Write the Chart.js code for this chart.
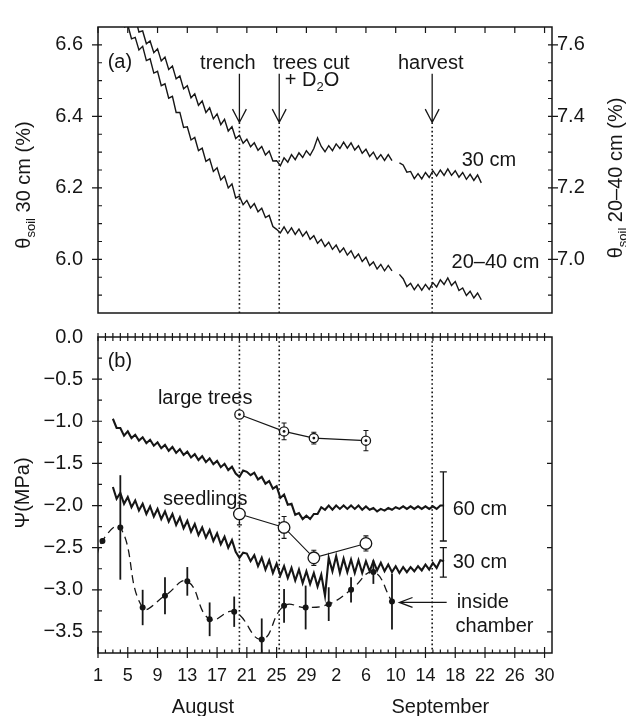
<!DOCTYPE html>
<html>
<head>
<meta charset="utf-8">
<title>Soil water content and water potential</title>
<script src="https://cdn.jsdelivr.net/npm/chart.js"></script>
<style>
  html, body { margin: 0; padding: 0; background: #fff; }
  .figure { position: relative; width: 626px; height: 716px; overflow: hidden; }
  .figure canvas { position: absolute; left: 0; }
  #thetaChart { top: 0; }
  #psiChart { top: 310px; }
</style>
</head>
<body>
<div class="figure">
  <canvas id="thetaChart" width="626" height="340"></canvas>
  <canvas id="psiChart" width="626" height="406"></canvas>
</div>
<script>
/* === Soil water: θ (panel a) and Ψ (panel b), Aug–Sep === */

// ── Data ── day 1 = 1 August, day 32 = 1 September
const labelDays = [1, 5, 9, 13, 17, 21, 25, 29, 33, 37, 41, 45, 49, 53, 57, 61];
const dayLabels = ['1', '5', '9', '13', '17', '21', '25', '29', '2', '6', '10', '14', '18', '22', '26', '30'];
const thetaLeftTicks = [6.0, 6.2, 6.4, 6.6];
const thetaRightTicks = [7.0, 7.2, 7.4, 7.6];
const psiTicks = [0, -0.5, -1.0, -1.5, -2.0, -2.5, -3.0, -3.5];

const eventDays = [20, 25.35, 45.9];   // trench, trees cut + D2O, harvest

const loggerStep = 0.5;                // days between plotted logger readings

// θsoil 30 cm (%), left axis
const theta30Start = 5.5;
const theta30 = [
  6.677, 6.676, 6.636, 6.639, 6.603, 6.611, 6.578, 6.589, 6.555, 6.566,
  6.531, 6.541, 6.505, 6.513, 6.477, 6.486, 6.452, 6.463, 6.431, 6.443,
  6.411, 6.424, 6.393, 6.407, 6.377, 6.392, 6.359, 6.371, 6.338, 6.347,
  6.325, 6.336, 6.315, 6.326, 6.305, 6.316, 6.292, 6.303, 6.275, 6.276,
  6.262, 6.284, 6.272, 6.293, 6.279, 6.298, 6.285, 6.304, 6.291, 6.310,
  6.340, 6.316, 6.301, 6.318, 6.304, 6.323, 6.310, 6.328, 6.311, 6.326,
  6.306, 6.318, 6.297, 6.308, 6.288, 6.300, 6.280, 6.293, 6.277, 6.293,
  6.276, null, 6.270, 6.264, 6.244, 6.246, 6.226, 6.240, 6.225, 6.243,
  6.229, 6.248, 6.233, 6.250, 6.235, 6.253, 6.235, 6.248, 6.230, 6.243,
  6.224, 6.238, 6.221, 6.236, 6.214
];

// θsoil 20–40 cm (%), right axis
const theta2040Start = 4.5;
const theta2040 = [
  7.649, 7.656, 7.617, 7.621, 7.586, 7.596, 7.556, 7.561, 7.521, 7.526,
  7.486, 7.491, 7.451, 7.456, 7.411, 7.411, 7.369, 7.371, 7.334, 7.341,
  7.304, 7.311, 7.274, 7.281, 7.246, 7.256, 7.222, 7.233, 7.200, 7.211,
  7.172, 7.177, 7.153, 7.165, 7.144, 7.156, 7.133, 7.143, 7.117, 7.123,
  7.092, 7.084, 7.074, 7.091, 7.073, 7.088, 7.070, 7.085, 7.065, 7.078,
  7.056, 7.066, 7.045, 7.056, 7.036, 7.048, 7.028, 7.040, 7.020, 7.032,
  7.012, 7.024, 7.003, 7.015, 6.994, 7.006, 6.983, 6.993, 6.973, 6.986,
  6.968, 6.983, 6.968, null, 6.958, 6.946, 6.924, 6.933, 6.915, 6.930,
  6.914, 6.930, 6.916, 6.935, 6.923, 6.943, 6.930, 6.948, 6.927, 6.938,
  6.913, 6.920, 6.899, 6.911, 6.892, 6.906, 6.887
];

// Ψsoil (MPa) at 60 cm and 30 cm
const psi60Start = 3;
const psi60 = [
  -0.97, -1.08, -1.08, -1.17, -1.12, -1.20, -1.16, -1.23, -1.19, -1.26,
  -1.22, -1.29, -1.25, -1.32, -1.28, -1.35, -1.305, -1.375, -1.33, -1.40,
  -1.36, -1.43, -1.39, -1.46, -1.415, -1.485, -1.44, -1.51, -1.47, -1.545,
  -1.505, -1.58, -1.54, -1.62, -1.66, -1.585, -1.60, -1.64, -1.61, -1.69,
  -1.66, -1.74, -1.71, -1.80, -1.77, -1.91, -1.87, -1.99, -1.98, -2.11,
  -2.09, -2.16, -2.12, -2.16, -2.10, -2.10, -2.02, -2.05, -2.00, -2.05,
  -2.00, -2.04, -2.00, -2.04, -2.00, -2.04, -2.00, -2.05, -2.01, -2.05,
  -2.03, -2.07, -2.04, -2.06, -2.03, -2.05, -2.02, -2.04, -2.01, -2.04,
  -2.01, -2.04, -2.01, -2.04, -2.01, -2.04, -2.01, -2.04, -2.00, -2.00
];
const psi30Start = 3;
const psi30 = [
  -1.78, -1.92, -1.85, -1.98, -1.90, -2.02, -1.94, -2.06, -1.98, -2.10,
  -2.01, -2.13, -2.04, -2.16, -2.07, -2.19, -2.10, -2.23, -2.14, -2.27,
  -2.18, -2.31, -2.22, -2.35, -2.26, -2.38, -2.29, -2.42, -2.33, -2.46,
  -2.37, -2.50, -2.41, -2.55, -2.62, -2.56, -2.57, -2.66, -2.59, -2.72,
  -2.62, -2.76, -2.65, -2.80, -2.69, -2.83, -2.72, -2.86, -2.74, -2.89,
  -2.76, -2.92, -2.78, -2.93, -2.80, -2.96, -2.82, -3.07, -2.62, -2.78,
  -2.60, -2.80, -2.63, -2.79, -2.64, -2.80, -2.65, -2.80, -2.66, -2.78,
  -2.66, -2.77, -2.68, -2.78, -2.70, -2.79, -2.72, -2.80, -2.73, -2.79,
  -2.73, -2.78, -2.72, -2.77, -2.70, -2.76, -2.68, -2.74, -2.65, -2.66
];

// plant water potential samples
const sampleDays = [20, 26, 30, 37];
const treePsi = [-0.92, -1.12, -1.20, -1.23];
const treeErr = [0.02, 0.10, 0.07, 0.12];
const seedlingPsi = [-2.10, -2.26, -2.62, -2.45];
const seedlingErr = [0.13, 0.13, 0.09, 0.09];

// inside chamber
const chamberDays = [1.6, 4, 7, 10, 13, 16, 19.3, 23, 26, 28.9, 32, 35, 38, 40.5];
const chamberPsi = [-2.42, -2.26, -3.21, -3.07, -2.90, -3.35, -3.26, -3.59, -3.19, -3.21, -3.17, -3.00, -2.79, -3.14];
const chamberErr = [0.03, 0.62, 0.21, 0.22, 0.17, 0.20, 0.18, 0.25, 0.20, 0.26, 0.20, 0.15, 0.14, 0.33];
const chamberCurveDays = [0.5, 1.6, 4, 7, 10, 13, 16, 19.3, 23, 26, 28.9, 32, 35, 38, 40.5];
const chamberCurve = [-2.75, -2.42, -2.26, -3.21, -3.07, -2.90, -3.35, -3.26, -3.59, -3.19, -3.21, -3.17, -3.00, -2.79, -3.14];

// sensor range bars at the end of the Ψ records
const sensorRangeDay = 47.4;
const psi60Range = [-1.60, -2.42];
const psi30Range = [-2.50, -2.85];

// ── Scale limits & style ──
const dayMin = 1, dayMax = 62;
const thetaMin = 5.85, thetaMax = 6.65;
const theta2Min = 6.85, theta2Max = 7.65;
const psiMin = -3.75, psiMax = 0;
const arrowTop = 6.519, arrowTip = 6.383;

const ink = '#161616';
const fontFamily = '"Liberation Sans", Arial, Helvetica, sans-serif';
Chart.defaults.font.family = fontFamily;
Chart.defaults.color = ink;

const toPoints = (start, values) => values.map((v, i) => ({ x: start + i * loggerStep, y: v }));
const pairPoints = (days, values) => days.map((d, i) => ({ x: d, y: values[i] }));
const fmtTick = v => (v < 0 ? '\u2212' : '') + Math.abs(v).toFixed(1);
const sameValue = (list, v) => list.some(t => Math.abs(t - v) < 1e-6);

function lineDataset(data, extra) {
    return Object.assign({ data, borderColor: ink, borderWidth: 1.4, pointRadius: 0, tension: 0, fill: false, spanGaps: false }, extra);
}
function dottedEvent(day, from, to, axisId) {
    return lineDataset([{ x: day, y: from }, { x: day, y: to }], { yAxisID: axisId, borderDash: [1.6, 2.6], borderWidth: 1.6, order: 4 });
}

// ── Drawing helpers ──
function drawRuns(ctx, runs, x, y, align) {
    const widths = runs.map(([t, size]) => { ctx.font = `${size}px ${fontFamily}`; return ctx.measureText(t).width; });
    const total = widths.reduce((s, w) => s + w, 0);
    let cx = align === 'center' ? x - total / 2 : x;
    runs.forEach(([t, size, dy = 0], i) => {
        ctx.font = `${size}px ${fontFamily}`;
        ctx.fillText(t, cx, y + dy);
        cx += widths[i];
    });
}
function drawVerticalTitle(ctx, runs, cx, cy) {
    ctx.save();
    ctx.translate(cx, cy);
    ctx.rotate(-Math.PI / 2);
    drawRuns(ctx, runs, 0, 7, 'center');
    ctx.restore();
}
function arrow(ctx, x1, y1, x2, y2, head, spread) {
    const ang = Math.atan2(y2 - y1, x2 - x1);
    ctx.beginPath();
    ctx.moveTo(x1, y1); ctx.lineTo(x2, y2);
    ctx.moveTo(x2 - head * Math.cos(ang - spread), y2 - head * Math.sin(ang - spread));
    ctx.lineTo(x2, y2);
    ctx.lineTo(x2 - head * Math.cos(ang + spread), y2 - head * Math.sin(ang + spread));
    ctx.stroke();
}
function drawNotes(ctx, notes, x, y) {
    ctx.textAlign = 'left';
    ctx.textBaseline = 'alphabetic';
    for (const n of notes) drawRuns(ctx, n.runs, x.getPixelForValue(n.day), y.getPixelForValue(n.value), n.align);
}

// ── Annotations ──
const thetaNotes = [
    { runs: [['(a)', 20]], day: 2.3, value: 6.534 },
    { runs: [['trench', 20]], day: 18.45, value: 6.532, align: 'center' },
    { runs: [['trees cut', 20]], day: 24.5, value: 6.532 },
    { runs: [['+ D', 20], ['2', 13, 5], ['O', 20]], day: 26.1, value: 6.484 },
    { runs: [['harvest', 20]], day: 45.7, value: 6.532, align: 'center' },
    { runs: [['30 cm', 20]], day: 49.86, value: 6.262 },
    { runs: [['20\u201340 cm', 20]], day: 48.5, value: 5.977 },
];
const psiNotes = [
    { runs: [['(b)', 20]], day: 2.3, value: -0.351 },
    { runs: [['large trees', 20]], day: 9.05, value: -0.796 },
    { runs: [['seedlings', 20]], day: 9.72, value: -1.991 },
    { runs: [['60 cm', 20]], day: 48.65, value: -2.108 },
    { runs: [['30 cm', 20]], day: 48.65, value: -2.740 },
    { runs: [['inside', 20]], day: 49.19, value: -3.220 },
    { runs: [['chamber', 20]], day: 49.05, value: -3.501 },
];

// ── Panel (a) plugin: frame, ticks, text ──
const thetaDecor = {
    id: 'thetaDecor',
    afterDatasetsDraw(chart) {
        const { ctx, chartArea: a, scales: { x, y, y2 } } = chart;
        ctx.save();
        ctx.strokeStyle = ink;
        ctx.lineWidth = 1.5;
        ctx.strokeRect(a.left, a.top, a.width, a.height);
        ctx.lineWidth = 1.2;
        ctx.beginPath();
        for (const d of labelDays) {
            const px = x.getPixelForValue(d);
            ctx.moveTo(px, a.top); ctx.lineTo(px, a.top + 6);
        }
        for (let i = 1; i < 16; i++) {
            const v1 = thetaMin + i * 0.05, v2 = theta2Min + i * 0.05;
            const p1 = y.getPixelForValue(v1), p2 = y2.getPixelForValue(v2);
            ctx.moveTo(a.left - (sameValue(thetaLeftTicks, v1) ? 6 : 0), p1); ctx.lineTo(a.left + 4, p1);
            ctx.moveTo(a.right - 4, p2); ctx.lineTo(a.right + (sameValue(thetaRightTicks, v2) ? 6 : 0), p2);
        }
        ctx.stroke();
        ctx.restore();
    },
    afterDraw(chart) {
        const { ctx, chartArea: a, scales: { x, y } } = chart;
        ctx.save();
        ctx.fillStyle = ink;
        ctx.strokeStyle = ink;
        ctx.lineWidth = 1.3;
        for (const d of eventDays) {
            const px = x.getPixelForValue(d);
            arrow(ctx, px, y.getPixelForValue(arrowTop), px, y.getPixelForValue(arrowTip), 15, 0.48);
        }
        drawNotes(ctx, thetaNotes, x, y);
        drawVerticalTitle(ctx, [['\u03b8', 20], ['soil', 13, 5], [' 30 cm (%)', 20]], a.left - 75, 185);
        drawVerticalTitle(ctx, [['\u03b8', 20], ['soil', 13, 5], [' 20\u201340 cm (%)', 20]], a.right + 63, 178);
        ctx.restore();
    }
};

// ── Panel (b) plugin: error bars, frame, ticks, text ──
const psiDecor = {
    id: 'psiDecor',
    beforeDatasetsDraw(chart) {
        const { ctx, chartArea: a, scales: { x, y } } = chart;
        ctx.save();
        ctx.beginPath();
        ctx.rect(a.left, a.top, a.width, a.height);
        ctx.clip();
        ctx.strokeStyle = ink;
        const bar = (d, hi, lo, cap, width) => {
            const px = x.getPixelForValue(d), top = y.getPixelForValue(hi), bot = y.getPixelForValue(lo);
            ctx.lineWidth = width;
            ctx.beginPath();
            ctx.moveTo(px, top); ctx.lineTo(px, bot);
            if (cap) { ctx.moveTo(px - cap, top); ctx.lineTo(px + cap, top); ctx.moveTo(px - cap, bot); ctx.lineTo(px + cap, bot); }
            ctx.stroke();
        };
        sampleDays.forEach((d, i) => {
            bar(d, treePsi[i] + treeErr[i], treePsi[i] - treeErr[i], 2.5, 1.1);
            bar(d, seedlingPsi[i] + seedlingErr[i], seedlingPsi[i] - seedlingErr[i], 2.5, 1.1);
        });
        chamberDays.forEach((d, i) => bar(d, chamberPsi[i] + chamberErr[i], chamberPsi[i] - chamberErr[i], 0, 1.8));
        bar(sensorRangeDay, psi60Range[0], psi60Range[1], 3.5, 1.4);
        bar(sensorRangeDay, psi30Range[0], psi30Range[1], 3.5, 1.4);
        ctx.restore();
    },
    afterDatasetsDraw(chart) {
        const { ctx, chartArea: a, scales: { x, y } } = chart;
        ctx.save();
        ctx.strokeStyle = ink;
        ctx.lineWidth = 1.5;
        ctx.strokeRect(a.left, a.top, a.width, a.height);
        ctx.lineWidth = 1.2;
        ctx.beginPath();
        for (let d = dayMin; d <= 61; d++) {
            const px = x.getPixelForValue(d);
            const major = labelDays.includes(d);
            ctx.moveTo(px, a.top - 4); ctx.lineTo(px, a.top + 4);
            ctx.moveTo(px, a.bottom + (major ? 5 : 0)); ctx.lineTo(px, a.bottom - (major ? 6 : 3.5));
        }
        for (let i = 1; i < 15; i++) {
            const v = -i * 0.25;
            const py = y.getPixelForValue(v);
            const major = sameValue(psiTicks, v);
            ctx.moveTo(a.left - (major ? 6 : 0), py); ctx.lineTo(a.left + 4, py);
            if (major) { ctx.moveTo(a.right - 5, py); ctx.lineTo(a.right, py); }
        }
        ctx.stroke();
        ctx.restore();
    },
    afterDraw(chart) {
        const { ctx, chartArea: a, scales: { x, y } } = chart;
        ctx.save();
        ctx.fillStyle = ink;
        ctx.strokeStyle = ink;
        ctx.lineWidth = 1.3;
        drawNotes(ctx, psiNotes, x, y);
        arrow(ctx, x.getPixelForValue(47.85), y.getPixelForValue(-3.15), x.getPixelForValue(41.5), y.getPixelForValue(-3.15), 14, 0.36);
        drawVerticalTitle(ctx, [['\u03a8(MPa)', 20]], a.left - 76, 183);
        ctx.textBaseline = 'alphabetic';
        drawRuns(ctx, [['August', 20]], x.getPixelForValue(15.1), a.bottom + 60, 'center');
        drawRuns(ctx, [['September', 20]], x.getPixelForValue(47.0), a.bottom + 60, 'center');
        ctx.restore();
    }
};

const yLabelAxis = (min, max, ticks, position, padding, width) => ({
    type: 'linear', position, min, max, bounds: 'data',
    grid: { display: false, drawTicks: false }, border: { display: false },
    ticks: { font: { size: 20 }, color: ink, padding, callback: fmtTick },
    afterBuildTicks: s => { s.ticks = ticks.map(value => ({ value })); },
    afterFit: s => { s.width = width; }
});

// ── Panel (a) ──
new Chart(document.getElementById('thetaChart'), {
    type: 'line',
    data: {
        datasets: [
            lineDataset(toPoints(theta30Start, theta30), { label: '30 cm', yAxisID: 'y', order: 1 }),
            lineDataset(toPoints(theta2040Start, theta2040), { label: '20\u201340 cm', yAxisID: 'y2', order: 1 }),
            ...eventDays.map(d => dottedEvent(d, arrowTip, thetaMin, 'y'))
        ]
    },
    options: {
        responsive: false, animation: false, events: [],
        layout: { padding: { top: 16, bottom: 7, left: 0, right: 0 } },
        plugins: { legend: { display: false }, tooltip: { enabled: false } },
        scales: {
            x: { type: 'linear', min: dayMin, max: dayMax, display: false },
            y: yLabelAxis(thetaMin, thetaMax, thetaLeftTicks, 'left', 15, 98),
            y2: yLabelAxis(theta2Min, theta2Max, thetaRightTicks, 'right', 5, 74)
        }
    },
    plugins: [thetaDecor]
});

// ── Panel (b) ──
new Chart(document.getElementById('psiChart'), {
    type: 'line',
    data: {
        datasets: [
            lineDataset(pairPoints(sampleDays, treePsi), { label: 'large trees (centre)', showLine: false, pointRadius: 1.4, pointBackgroundColor: ink, pointBorderWidth: 0, order: 0 }),
            lineDataset(pairPoints(sampleDays, treePsi), { label: 'large trees', borderWidth: 1.1, pointRadius: 4.6, pointBorderWidth: 1.3, pointBackgroundColor: '#fff', pointBorderColor: ink, order: 1 }),
            lineDataset(pairPoints(sampleDays, seedlingPsi), { label: 'seedlings', borderWidth: 1.1, pointRadius: 5.8, pointBorderWidth: 1.3, pointBackgroundColor: '#fff', pointBorderColor: ink, order: 1 }),
            lineDataset(pairPoints(chamberDays, chamberPsi), { label: 'inside chamber', showLine: false, pointRadius: 3, pointBackgroundColor: ink, pointBorderWidth: 0, order: 1 }),
            lineDataset(pairPoints(chamberCurveDays, chamberCurve), { label: 'chamber trend', borderDash: [8, 5], borderWidth: 1.3, tension: 0.45, order: 2 }),
            lineDataset(toPoints(psi60Start, psi60), { label: '60 cm', borderWidth: 2.1, order: 3 }),
            lineDataset(toPoints(psi30Start, psi30), { label: '30 cm', borderWidth: 2.1, order: 3 }),
            ...eventDays.map(d => dottedEvent(d, psiMax, psiMin, 'y'))
        ]
    },
    options: {
        responsive: false, animation: false, events: [],
        layout: { padding: { top: 23, bottom: 0, left: 0, right: 74 } },
        plugins: { legend: { display: false }, tooltip: { enabled: false } },
        scales: {
            x: {
                type: 'linear', position: 'bottom', min: dayMin, max: dayMax, bounds: 'data',
                grid: { display: false, drawTicks: false }, border: { display: false },
                ticks: { font: { size: 18 }, color: ink, padding: 12, autoSkip: false, maxRotation: 0, callback: (v, i) => dayLabels[i] },
                afterBuildTicks: s => { s.ticks = labelDays.map(value => ({ value })); },
                afterFit: s => { s.height = 63; }
            },
            y: yLabelAxis(psiMin, psiMax, psiTicks, 'left', 15, 98)
        }
    },
    plugins: [psiDecor]
});
</script>
</body>
</html>
